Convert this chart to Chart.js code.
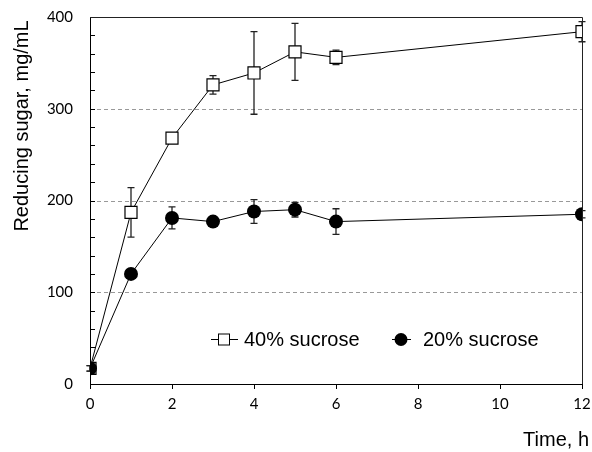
<!DOCTYPE html>
<html>
<head>
<meta charset="utf-8">
<script src="https://cdn.jsdelivr.net/npm/chart.js@4"></script>
<style>
  html, body { margin: 0; padding: 0; background: #fff; }
  #wrap { width: 592px; height: 452px; }
</style>
</head>
<body>
<div id="wrap"><canvas id="sugarChart" width="592" height="452"></canvas></div>
<script>
// Time points (h) and reducing sugar (mg/mL) with error bars
const times = [0, 1, 2, 3, 4, 5, 6, 12];
const sugar40 = [17, 187, 268, 326, 339, 362, 356, 384];
const err40 = [3, 27, 3, 10, 45, 31, 8, 11];
const sugar20 = [17, 120, 181, 177, 188, 190, 177, 185];
const err20 = [3, 3, 12, 3, 13, 8, 14, 4];
const seriesNames = ["40% sucrose", "20% sucrose"];
const gridValues = [100, 200, 300];

const labelFont = '20px "Liberation Sans", Arial, sans-serif';

// Dashed grid, inward minor ticks, box and error bars
const framePlugin = {
  id: "frame",
  beforeDatasetsDraw(chart) {
    const { ctx, chartArea: a, scales } = chart;
    const x = scales.x, y = scales.y;
    ctx.save();
    ctx.strokeStyle = "#999";
    ctx.lineWidth = 1;
    ctx.setLineDash([4, 3]);
    gridValues.forEach((v) => {
      const py = Math.round(y.getPixelForValue(v)) + 0.5;
      ctx.beginPath();
      ctx.moveTo(a.left, py);
      ctx.lineTo(a.right, py);
      ctx.stroke();
    });
    ctx.setLineDash([]);
    ctx.strokeStyle = "#000";
    for (let v = 20; v < 400; v += 20) {
      const py = Math.round(y.getPixelForValue(v)) + 0.5;
      ctx.beginPath();
      ctx.moveTo(a.left, py);
      ctx.lineTo(a.left + 5, py);
      ctx.stroke();
    }
    ctx.strokeStyle = "#222";
    ctx.beginPath();
    ctx.moveTo(a.left, Math.round(a.top) + 0.5);
    ctx.lineTo(Math.round(a.right) + 0.5, Math.round(a.top) + 0.5);
    ctx.lineTo(Math.round(a.right) + 0.5, a.bottom);
    ctx.stroke();

    // error bars
    const sets = [[sugar40, err40], [sugar20, err20]];
    ctx.strokeStyle = "#222";
    ctx.lineWidth = 1.3;
    sets.forEach(([vals, errs]) => {
      vals.forEach((v, i) => {
        const px = x.getPixelForValue(times[i]);
        const top = y.getPixelForValue(v + errs[i]);
        const bot = y.getPixelForValue(v - errs[i]);
        ctx.beginPath();
        ctx.moveTo(px, top);
        ctx.lineTo(px, bot);
        ctx.moveTo(px - 3.5, top);
        ctx.lineTo(px + 3.5, top);
        ctx.moveTo(px - 3.5, bot);
        ctx.lineTo(px + 3.5, bot);
        ctx.stroke();
      });
    });
    ctx.restore();
  },
  afterDraw(chart) {
    const { ctx } = chart;
    ctx.save();
    ctx.fillStyle = "#000";
    ctx.font = labelFont;

    // axis titles
    ctx.textAlign = "right";
    ctx.textBaseline = "alphabetic";
    ctx.fillText("Time, h", 589, 446);
    ctx.save();
    ctx.translate(22, 126);
    ctx.rotate(-Math.PI / 2);
    ctx.textAlign = "center";
    ctx.textBaseline = "middle";
    ctx.fillText("Reducing sugar, mg/mL", 0, 0);
    ctx.restore();

    // legend
    const ly = 339.5;
    ctx.strokeStyle = "#000";
    ctx.lineWidth = 1;
    ctx.beginPath();
    ctx.moveTo(211, ly); ctx.lineTo(238, ly);
    ctx.moveTo(392, ly); ctx.lineTo(411, ly);
    ctx.stroke();
    ctx.fillStyle = "#fff";
    ctx.fillRect(218.5, ly - 5.5, 11, 11);
    ctx.strokeRect(218.5, ly - 5.5, 11, 11);
    ctx.fillStyle = "#000";
    ctx.beginPath();
    ctx.arc(401, ly, 6.5, 0, Math.PI * 2);
    ctx.fill();
    ctx.textAlign = "left";
    ctx.fillText(seriesNames[0], 244, 346);
    ctx.fillText(seriesNames[1], 423, 346);
    ctx.restore();
  }
};

const ctx = document.getElementById("sugarChart").getContext("2d");
const sugarChart = new Chart(ctx, {
  type: "line",
  data: {
    datasets: [
      {
        label: seriesNames[0],
        data: times.map((t, i) => ({ x: t, y: sugar40[i] })),
        borderColor: "#000",
        borderWidth: 1,
        backgroundColor: "#fff",
        pointStyle: "rect",
        pointRadius: 8.5,
        pointBorderWidth: 1.2,
        pointBorderColor: "#000",
        pointBackgroundColor: "#fff",
        order: 1,
      },
      {
        label: seriesNames[1],
        data: times.map((t, i) => ({ x: t, y: sugar20[i] })),
        borderColor: "#000",
        borderWidth: 1,
        backgroundColor: "#000",
        pointStyle: "circle",
        pointRadius: 7,
        pointBorderWidth: 0,
        pointBackgroundColor: "#000",
        order: 0,
      },
    ],
  },
  options: {
    responsive: false,
    animation: false,
    layout: { padding: { top: 17, right: 10, left: 0, bottom: 0 } },
    plugins: {
      legend: { display: false },
      tooltip: { enabled: false },
    },
    scales: {
      x: {
        type: "linear",
        min: 0,
        max: 12,
        ticks: { stepSize: 2, color: "#000", font: { family: "Lato", size: 15 }, padding: 6 },
        grid: { drawOnChartArea: false, drawTicks: true, tickLength: 5, color: "#000" },
        border: { color: "#000", width: 1 },
        afterFit: (scale) => {
          scale.height = 68;
          scale.paddingLeft = 0;
          scale.paddingRight = 0;
        },
      },
      y: {
        min: 0,
        max: 400,
        ticks: { stepSize: 100, color: "#000", font: { family: "Lato", size: 15 }, padding: 17 },
        grid: { drawOnChartArea: false, drawTicks: false },
        border: { color: "#000", width: 1 },
        afterFit: (scale) => {
          scale.width = 90;
          scale.paddingTop = 0;
          scale.paddingBottom = 0;
        },
      },
    },
  },
  plugins: [framePlugin],
});
</script>
</body>
</html>
